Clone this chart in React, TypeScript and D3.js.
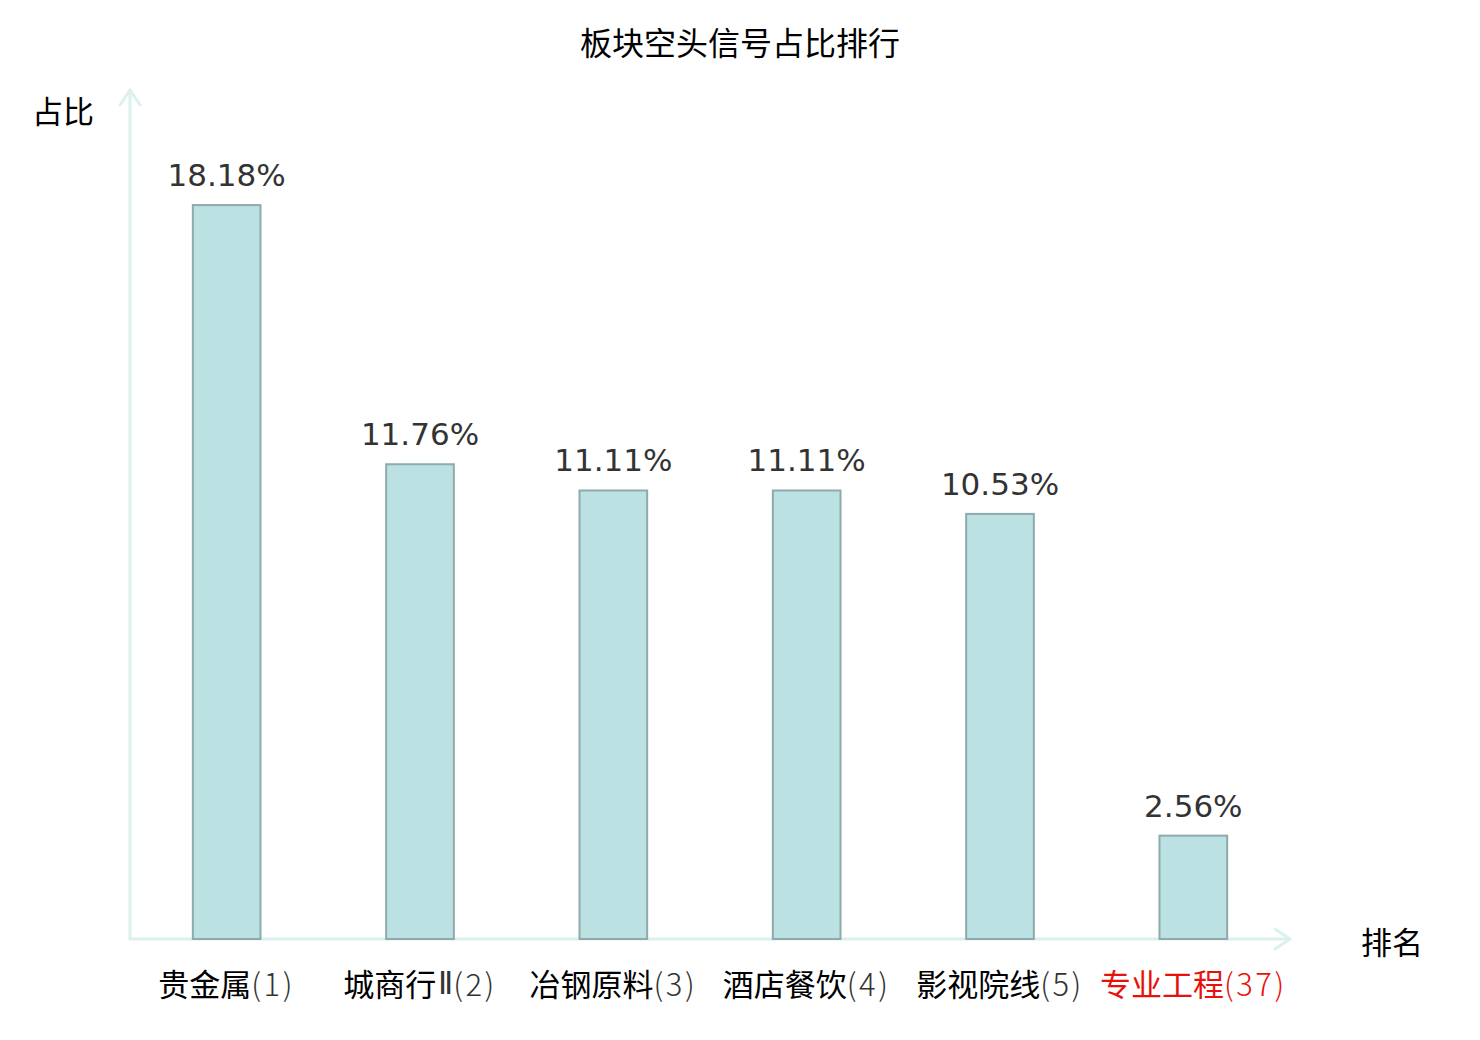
import React from "react";
import * as d3 from "d3";

const categories = ["贵金属", "城商行", "冶钢原料", "酒店餐饮", "影视院线", "专业工程"];
const suffixes = ["", "Ⅱ", "", "", "", ""];
const ranks = [1, 2, 3, 4, 5, 37];
const values = [18.18, 11.76, 11.11, 11.11, 10.53, 2.56];
const highlighted = [false, false, false, false, false, true];

const W = 1480;
const H = 1040;
const x0 = 130;
const x1 = 1290;
const yBase = 939;

export default function App() {
  const idx = categories.map((_, i) => i);
  const x = d3.scaleBand<number>().domain(idx).range([x0, x1]).paddingInner(0.65).paddingOuter(0.325);
  const y = d3.scaleLinear().domain([0, 20]).range([yBase, yBase - 807.4]);
  const cjk = "'Noto Sans CJK SC', 'Noto Sans', sans-serif";
  const axisColor = "#dcf1ee";
  return (
    <svg width={W} height={H} style={{ position: "absolute", left: 0, top: 0, background: "#fff" }}>
      <text x={740} y={41} textAnchor="middle" dominantBaseline="central" fontFamily={cjk} fontSize={32} fill="#000">
        板块空头信号占比排行
      </text>
      <text x={63} y={109} textAnchor="middle" dominantBaseline="central" fontFamily={cjk} fontSize={31} fill="#000">
        占比
      </text>
      <text x={1392} y={940} textAnchor="middle" dominantBaseline="central" fontFamily={cjk} fontSize={31} fill="#000">
        排名
      </text>
      <g stroke={axisColor} strokeWidth={3} fill="none" strokeLinecap="round" strokeLinejoin="round">
        <line x1={x0} y1={yBase} x2={x0} y2={90} />
        <polyline points={`${x0 - 10},${105} ${x0},${90} ${x0 + 10},${105}`} />
        <line x1={x0} y1={yBase} x2={x1} y2={yBase} />
        <polyline points={`${x1 - 15},${yBase - 10} ${x1},${yBase} ${x1 - 15},${yBase + 10}`} />
      </g>
      {idx.map((i) => (
        <g key={i}>
          <rect
            x={x(i)!}
            y={y(values[i])}
            width={x.bandwidth()}
            height={yBase - y(values[i])}
            fill="#bce1e3"
            stroke="#8faaab"
            strokeWidth={2}
          />
          <text
            x={x(i)! + x.bandwidth() / 2}
            y={y(values[i]) - 30}
            textAnchor="middle"
            dominantBaseline="central"
            fontFamily="'DejaVu Sans', sans-serif"
            fontSize={31}
            fill="#333"
          >
            {values[i].toFixed(2)}%
          </text>
          <text
            x={x(i)! + x.bandwidth() / 2}
            y={982}
            textAnchor="middle"
            dominantBaseline="central"
            fontFamily={cjk}
            fontSize={31}
            fill={highlighted[i] ? "#e8120c" : "#000"}
          >
            {categories[i]}
            {suffixes[i] ? (
              <tspan fontWeight={300} fontFamily="'Noto Sans', sans-serif" fill="#333" dx={2}>
                {suffixes[i]}
              </tspan>
            ) : null}
            <tspan
              fontWeight={300}
              fontFamily="'Noto Sans CJK SC', sans-serif"
              letterSpacing={2.5}
              fill={highlighted[i] ? "#e8120c" : "#333"}
            >
              ({ranks[i]})
            </tspan>
          </text>
        </g>
      ))}
    </svg>
  );
}
